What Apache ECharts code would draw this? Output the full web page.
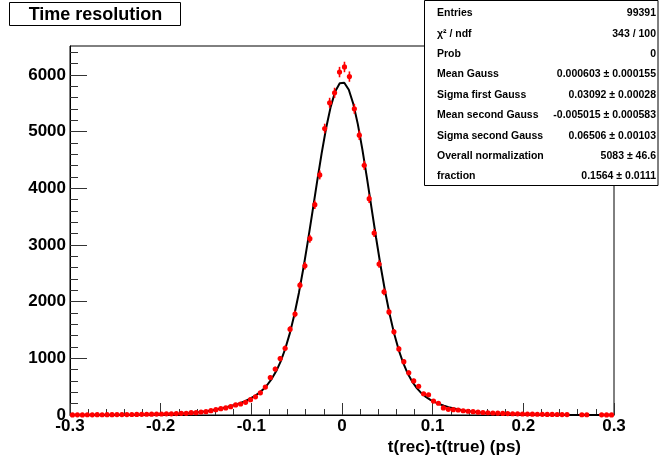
<!DOCTYPE html>
<html><head><meta charset="utf-8">
<script src="https://cdn.jsdelivr.net/npm/echarts@6/dist/echarts.min.js"></script>
<style>html,body{margin:0;padding:0;background:#fff}#c{width:662px;height:460px}</style>
</head><body><div id="c"></div>
<script>
// Histogram binning
const xMin = -0.3, xMax = 0.3, nBins = 110;
// Bin contents, 110 bins from -0.3 to 0.3; null = empty bin
const counts = [
  2,3,2,4,3,5,4,6,5,7,
  7,8,9,10,12,13,14,16,18,20,
  20,25,30,30,41,41,53,58,76,94,
  112,124,147,177,194,224,270,320,392,492,
  662,810,995,1178,1514,1782,2290,2633,3110,3711,
  4236,5054,5508,5684,6050,
  6140,5970,5402,4936,4405,
  3817,3211,2663,2173,1818,1467,1166,940,745,601,
  507,375,357,245,207,124,101,94,88,75,
  66,58,50,44,40,35,32,28,25,22,
  20,18,16,15,13,12,11,10,9,8,
  7,null,null,4,4,null,null,3,2,2
];
// Fit curve samples, from -0.2975 in steps of 0.005
const fitStart = -0.2975, fitStep = 0.005;
const fitValues = [
  0.03,0.05,0.06,0.09,0.12,0.17,0.23,0.32,0.43,0.57,0.76,
  1.0,1.34,1.76,2.3,3.0,3.8,4.9,6.3,8.0,10,12.5,16,19,24,29,35,42,51,61,72,85,100,117,136,158,182,210,241,278,
  322,376,444,529,638,775,951,1173,1444,1772,2158,2597,3081,3593,4112,4612,5063,5436,5706,5852,
  5863,5738,5487,5127,4682,4183,3658,3136,2638,2183,1782,1436,1150,918,731,587,474,387,320,267,
  226,191,163,139,118,101,85,72,61,51,42,35,29,24,19,16,12.5,10,8,6.3,
  4.9,3.8,3.0,2.3,1.76,1.34,1.0,0.76,0.57,0.43,0.32,0.23,0.17,0.12,0.09,0.064,0.046,0.032,0.022,0.015
];
const yTickValues = [0,1000,2000,3000,4000,5000,6000];
const yMinorTickValues = [200,400,600,800,1200,1400,1600,1800,2200,2400,2600,2800,3200,3400,3600,3800,4200,4400,4600,4800,5200,5400,5600,5800,6200,6400];
const yMax = 6510;
const titleText = 'Time resolution';
const xTitle = 't(rec)-t(true) (ps)';
const statsLabels = ['Entries','χ² / ndf','Prob','Mean Gauss','Sigma first Gauss','Mean second Gauss','Sigma second Gauss','Overall normalization','fraction'];
const statsValues = ['99391','343 / 100','0','0.000603 ± 0.000155','0.03092 ± 0.00028','-0.005015 ± 0.000583','0.06506 ± 0.00103','5083 ± 46.6','0.1564 ± 0.0111'];

const binW = (xMax - xMin) / nBins;
const histData = [];
counts.forEach((c, i) => { if (c !== null) histData.push([xMin + (i + 0.5) * binW, c, Math.sqrt(c)]); });
const fitData = fitValues.map((v, i) => [fitStart + i * fitStep, v]);

const FONT = '"Liberation Sans", Arial, Helvetica, sans-serif';
const chart = echarts.init(document.getElementById('c'), null, {renderer: 'canvas'});

const statsGraphics = [];
statsGraphics.push({type: 'rect', shape: {x: 424.5, y: 0.5, width: 233.5, height: 185}, style: {fill: '#fff', stroke: '#000', lineWidth: 1}, z: 100});
statsLabels.forEach((t, i) => {
  const y = 13.3 + i * 20.4;
  statsGraphics.push({type: 'text', x: 437, y: y, style: {text: t, fill: '#000', font: 'bold 10.5px ' + FONT, textAlign: 'left', textVerticalAlign: 'middle'}, z: 101});
  statsGraphics.push({type: 'text', x: 656, y: y, style: {text: statsValues[i], fill: '#000', font: 'bold 10.5px ' + FONT, textAlign: 'right', textVerticalAlign: 'middle'}, z: 101});
});

chart.setOption({
  animation: false,
  backgroundColor: '#fff',
  grid: {left: 70, right: 48, top: 46, bottom: 45, show: true, borderColor: '#000', borderWidth: 1, backgroundColor: 'transparent'},
  xAxis: {
    type: 'value', min: xMin, max: xMax, interval: 0.1,
    axisLine: {show: true, onZero: false, lineStyle: {color: '#000', width: 1}},
    axisTick: {show: true, inside: true, length: 12, lineStyle: {color: '#333', width: 1}},
    minorTick: {show: true, splitNumber: 5, length: 6, lineStyle: {color: '#333', width: 1}},
    splitLine: {show: false}, minorSplitLine: {show: false},
    axisLabel: {margin: 3, color: '#000', fontSize: 17, fontWeight: 'bold', fontFamily: FONT}
  },
  yAxis: [{
    type: 'value', min: 0, max: yMax, position: 'left',
    axisLine: {show: true, onZero: false, lineStyle: {color: '#000', width: 1}},
    axisTick: {show: true, inside: true, length: 17, customValues: yTickValues, lineStyle: {color: '#333', width: 1}},
    splitLine: {show: false},
    axisLabel: {margin: 4, color: '#000', fontSize: 17, fontWeight: 'bold', fontFamily: FONT, customValues: yTickValues,
      formatter: function (v) { return String(Math.round(v)); }}
  }, {
    type: 'value', min: 0, max: yMax, position: 'left', offset: 0,
    axisLine: {show: false, onZero: false},
    axisTick: {show: true, inside: true, length: 8, customValues: yMinorTickValues, lineStyle: {color: '#333', width: 1}},
    splitLine: {show: false},
    axisLabel: {show: false}
  }],
  series: [{
    type: 'line', yAxisIndex: 0, z: 3, data: fitData, showSymbol: false, symbol: 'none', smooth: false,
    lineStyle: {color: '#000', width: 2}
  }, {
    type: 'custom', yAxisIndex: 0, z: 4, clip: false,
    data: histData,
    renderItem: function (params, api) {
      const x = api.value(0), y = api.value(1), e = api.value(2);
      const p = api.coord([x, y]);
      const pl = api.coord([x, y - e]);
      const ph = api.coord([x, y + e]);
      return {type: 'group', children: [
        {type: 'line', shape: {x1: p[0], y1: pl[1] + 0.8, x2: p[0], y2: ph[1] - 0.8}, style: {stroke: '#ff0000', lineWidth: 1.6}},
        {type: 'circle', shape: {cx: p[0], cy: p[1], r: 2.6}, style: {fill: '#ff0000'}}
      ]};
    }
  }],
  graphic: [
    {type: 'rect', shape: {x: 9.5, y: 2.5, width: 171, height: 23}, style: {fill: '#fff', stroke: '#000', lineWidth: 1}, z: 100},
    {type: 'text', x: 95.5, y: 15, style: {text: titleText, fill: '#000', font: 'bold 18px ' + FONT, textAlign: 'center', textVerticalAlign: 'middle'}, z: 101},
    {type: 'text', x: 521, y: 447, style: {text: xTitle, fill: '#000', font: 'bold 17px ' + FONT, textAlign: 'right', textVerticalAlign: 'middle'}, z: 101}
  ].concat(statsGraphics)
});
</script></body></html>
